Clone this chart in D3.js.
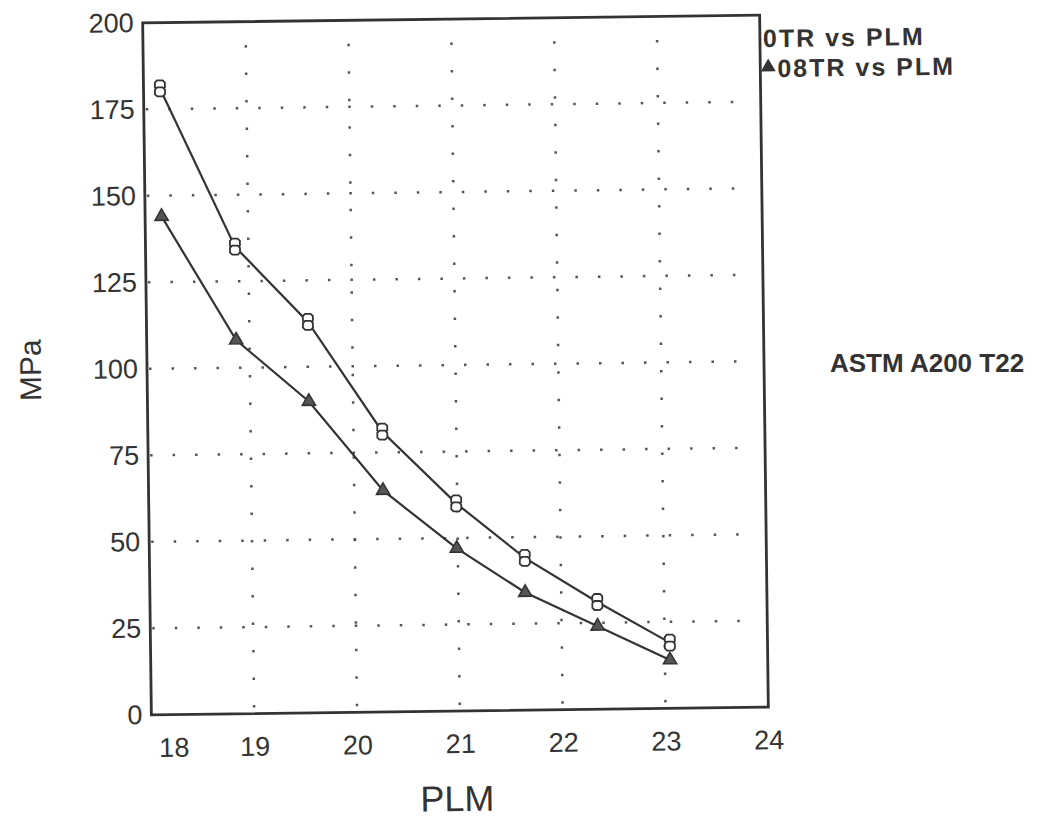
<!DOCTYPE html>
<html lang="en">
<head>
<meta charset="UTF-8">
<title>TR vs PLM</title>
<script src="https://d3js.org/d3.v7.min.js"></script>
<style>
    body { margin: 0; background: #fff; }
    svg { display: block; }
    .tick text { font-family: "Liberation Sans", Arial, sans-serif; font-size: 27px; fill: #333; }
    .legend { font-family: "Liberation Sans", Arial, sans-serif; font-size: 25px; font-weight: bold; fill: #333; letter-spacing: 2px; }
    .note { font-family: "Liberation Sans", Arial, sans-serif; font-size: 26px; font-weight: bold; fill: #333; }
</style>
</head>
<body>
<svg width="1037" height="820"></svg>
<script>
    // values
    const plm = [18.16, 18.87, 19.57, 20.28, 20.99, 21.65, 22.35, 23.05];
    const otr = [181, 135, 113, 81, 60, 44, 31, 19];
    const odtr = [144, 108, 90, 64, 47, 34, 24, 14];
    const xTicks = [18, 19, 20, 21, 22, 23, 24];
    const yTicks = [0, 25, 50, 75, 100, 125, 150, 175, 200];
    const xGrid = [19, 20, 21, 22, 23];
    const yGrid = [25, 50, 75, 100, 125, 150, 175];

    const plotLeft = 147, plotRight = 764, plotTop = 19, plotBottom = 711;
    const ink = "#333";

    const svg = d3.select("svg");
    // the scanned page is tilted a little
    const g = svg.append("g").attr("transform", "rotate(-0.72, 455.5, 365)");

    const x = d3.scaleLinear().domain([18, 24]).range([plotLeft, plotRight]);
    const y = d3.scaleLinear().domain([0, 200]).range([plotBottom, plotTop]);

    // dotted grid
    g.selectAll(".vgrid").data(xGrid).enter().append("line")
        .attr("x1", d => x(d)).attr("x2", d => x(d))
        .attr("y1", plotBottom - 6).attr("y2", plotTop + 4)
        .attr("stroke", "#555").attr("stroke-width", 2.5)
        .attr("stroke-dasharray", "2.5 25");
    g.selectAll(".hgrid").data(yGrid).enter().append("line")
        .attr("x1", plotLeft + 2).attr("x2", x(23.85))
        .attr("y1", d => y(d)).attr("y2", d => y(d))
        .attr("stroke", "#555").attr("stroke-width", 2.5)
        .attr("stroke-dasharray", "2.5 20");

    // axes (labels only, frame drawn separately)
    const yAxis = g.append("g")
        .attr("transform", `translate(${plotLeft},0)`)
        .call(d3.axisLeft(y).tickValues(yTicks).tickSize(0).tickPadding(9));
    yAxis.select(".domain").remove();

    const xAxis = g.append("g")
        .attr("transform", `translate(0,${plotBottom})`)
        .call(d3.axisBottom(x).tickValues(xTicks).tickFormat(d3.format("d")).tickSize(0).tickPadding(23));
    xAxis.select(".domain").remove();
    xAxis.selectAll(".tick text").attr("dx", d => d === 18 ? 22 : 0);

    g.append("rect")
        .attr("x", plotLeft).attr("y", plotTop)
        .attr("width", plotRight - plotLeft).attr("height", plotBottom - plotTop)
        .attr("fill", "none").attr("stroke", ink).attr("stroke-width", 2.8);

    g.append("text")
        .attr("transform", "translate(30,365) rotate(-90)")
        .attr("text-anchor", "middle").attr("dy", "0.36em")
        .style("font-family", "'Liberation Sans', Arial, sans-serif")
        .style("font-size", "30px").style("fill", ink)
        .text("MPa");

    g.append("text")
        .attr("x", 452).attr("y", 811)
        .attr("text-anchor", "middle")
        .style("font-family", "'Liberation Sans Narrow', 'Liberation Sans', Arial, sans-serif")
        .style("font-size", "36px").style("fill", ink)
        .text("PLM");

    const line = d3.line().x(d => x(d[0])).y(d => y(d[1]));
    const otrPts = plm.map((p, i) => [p, otr[i]]);
    const odtrPts = plm.map((p, i) => [p, odtr[i]]);

    [otrPts, odtrPts].forEach(pts => {
        g.append("path").datum(pts)
            .attr("d", line)
            .attr("fill", "none").attr("stroke", ink).attr("stroke-width", 2.2);
    });

    // octagon marker, drawn twice stacked like the plotter did
    function octagon(w, h) {
        const a = w / 2, b = h / 2, c = w * 0.22;
        return `M${-a + c},${-b}L${a - c},${-b}L${a},${-b + c}L${a},${b - c}L${a - c},${b}L${-a + c},${b}L${-a},${b - c}L${-a},${-b + c}Z`;
    }
    const oct = g.selectAll(".otr").data(otrPts).enter().append("g")
        .attr("transform", d => `translate(${x(d[0])},${y(d[1])})`);
    [-3.5, 3.5].forEach(off => {
        oct.append("path")
            .attr("d", octagon(10, 9))
            .attr("transform", `translate(0,${off})`)
            .attr("fill", "#fff").attr("stroke", ink).attr("stroke-width", 1.8);
    });

    const tri = d3.symbol().type(d3.symbolTriangle).size(75);
    g.selectAll(".odtr").data(odtrPts).enter().append("path")
        .attr("d", tri)
        .attr("transform", d => `translate(${x(d[0])},${y(d[1])})`)
        .attr("fill", "#555").attr("stroke", ink).attr("stroke-width", 1.6);

    // legend
    g.append("text").attr("class", "legend")
        .attr("x", 767).attr("y", 51)
        .text("0TR vs PLM");
    g.append("path")
        .attr("d", d3.symbol().type(d3.symbolTriangle).size(95))
        .attr("transform", "translate(772,71)")
        .attr("fill", ink);
    g.append("text").attr("class", "legend")
        .attr("x", 781).attr("y", 81)
        .text("08TR vs PLM");

    svg.append("text").attr("class", "note")
        .attr("x", 830).attr("y", 372)
        .text("ASTM A200 T22");
</script>
</body>
</html>
